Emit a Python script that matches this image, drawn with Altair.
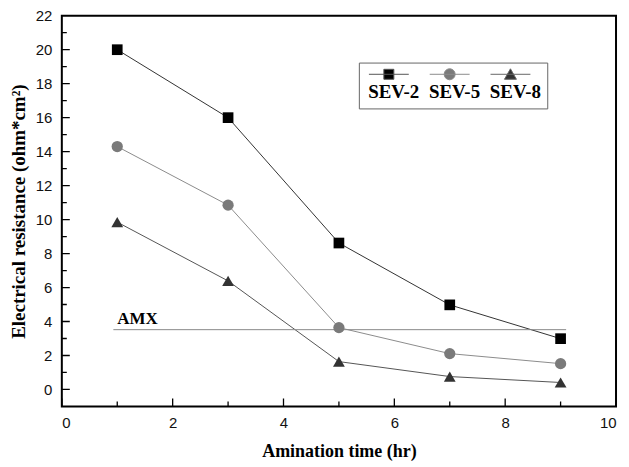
import altair as alt
import pandas as pd

# ---- data ----
hours = [1, 3, 5, 7, 9]
sev2 = [20.0, 16.0, 8.62, 4.98, 2.99]
sev5 = [14.3, 10.85, 3.64, 2.11, 1.52]
sev8 = [9.85, 6.39, 1.64, 0.76, 0.41]
series_names = ["SEV-2", "SEV-5", "SEV-8"]
amx_value = 3.52
amx_start = 0.93
amx_end = 9.1
amx_label_x = 1.0
amx_label = "AMX"
x_major_ticks = [0, 2, 4, 6, 8, 10]
x_minor_ticks = [1, 3, 5, 7, 9]
y_major_ticks = list(range(0, 22, 2))
y_minor_ticks = list(range(1, 22, 2))
x_label_values = [0, 2, 4, 6, 8, 10]
y_label_values = list(range(0, 23, 2))

# ---- styling ----
W, H = 556, 392
marker_colors = ["#000000", "#7a7a7a", "#333333"]
line_colors = ["#333333", "#8c8c8c", "#555555"]
legend_line_colors = ["#555555", "#8c8c8c", "#666666"]
shapes = ["square", "circle", "triangle-up"]
sizes = [115, 140, 150]
# legend symbols (unit = 11 px): a short line with the marker, raised above the label
legend_paths = [
    "M-0.673,-1.636H2.964M0.69,-2.09H1.6V-1.18H0.69Z",
    "M-0.673,-1.636H2.964M0.645,-1.636A0.5,0.5 0 1,0 1.645,-1.636A0.5,0.5 0 1,0 0.645,-1.636Z",
    "M-0.673,-1.636H2.964M1.145,-2.136L1.69,-1.18H0.6Z",
]

rows = []
for name, vals in zip(series_names, [sev2, sev5, sev8]):
    for h, v in zip(hours, vals):
        rows.append({"series": name, "hours": h, "res": v})
df = pd.DataFrame(rows)

amx_df = pd.DataFrame({"x0": [amx_start], "x1": [amx_end], "y": [amx_value],
                       "lx": [amx_label_x], "label": [amx_label]})

xs = alt.Scale(domain=[0, 10], nice=False, zero=False)
ys = alt.Scale(domain=[-1, 22], nice=False, zero=False)

x_axis = alt.Axis(values=x_label_values, tickSize=0, domain=False, grid=False,
                  labelFont="Liberation Sans", labelFontSize=15, labelColor="#111",
                  labelPadding=9, labelOverlap=False, title="Amination time (hr)",
                  titleFont="Liberation Serif", titleFontSize=18, titleFontWeight="bold",
                  titleColor="#000", titlePadding=12)
y_axis = alt.Axis(values=y_label_values, tickSize=0, domain=False, grid=False,
                  labelFont="Liberation Sans", labelFontSize=15, labelColor="#111",
                  labelPadding=10, labelOverlap=False, title="Electrical resistance (ohm*cm²)",
                  titleFont="Liberation Serif", titleFontSize=19, titleFontWeight="bold",
                  titleColor="#000", titlePadding=7)


def XF(field):
    return alt.X(field, scale=xs, axis=x_axis)


def YF(field):
    return alt.Y(field, scale=ys, axis=y_axis)


lines = alt.Chart(df).mark_line(strokeWidth=1).encode(
    x=XF("hours:Q"), y=YF("res:Q"),
    stroke=alt.Stroke("series:N", scale=alt.Scale(domain=series_names, range=line_colors), legend=None),
)

points = alt.Chart(df).mark_point(filled=True, opacity=1).encode(
    x=XF("hours:Q"), y=YF("res:Q"),
    color=alt.Color("series:N", scale=alt.Scale(domain=series_names, range=marker_colors), legend=None),
    shape=alt.Shape("series:N", scale=alt.Scale(domain=series_names, range=shapes), legend=None),
    size=alt.Size("series:N", scale=alt.Scale(domain=series_names, range=sizes), legend=None),
)

leg = alt.Legend(title=" ", titleFontSize=8, titlePadding=4,
                 orient="none", legendX=298, legendY=47, direction="horizontal",
                 columns=3, symbolSize=484, labelAlign="center", labelOffset=6,
                 labelBaseline="middle", labelFont="Liberation Serif", labelFontSize=19,
                 labelFontWeight="bold", labelColor="#000", columnPadding=6,
                 padding=6, strokeColor="#666", fillColor="white",
                 symbolStrokeWidth=1, symbolOpacity=1)

legend_layer = alt.Chart(df).mark_point(filled=False, strokeWidth=1, opacity=1).encode(
    x=XF("hours:Q"), y=YF("res:Q"),
    stroke=alt.Stroke("series:N", scale=alt.Scale(domain=series_names, range=legend_line_colors), legend=leg),
    fill=alt.Fill("series:N", scale=alt.Scale(domain=series_names, range=marker_colors), legend=leg),
    shape=alt.Shape("series:N", scale=alt.Scale(domain=series_names, range=legend_paths), legend=leg),
).transform_filter("datum.res < -100")

amx_rule = alt.Chart(amx_df).mark_rule(color="#8a8a8a", strokeWidth=1).encode(
    x=XF("x0:Q"), x2="x1:Q", y=YF("y:Q"))
amx_text = alt.Chart(amx_df).mark_text(align="left", baseline="alphabetic", dy=-6,
                                       font="Liberation Serif", fontSize=17,
                                       fontWeight="bold", color="#000").encode(
    x=XF("lx:Q"), y=YF("y:Q"), text="label:N")


def xtick_layer(vals, length):
    return alt.Chart(pd.DataFrame({"xv": vals})).mark_tick(
        color="#000", size=length * 2, thickness=1.3, opacity=1, clip=True).encode(
        x=XF("xv:Q"), y=alt.value(H))


def ytick_layer(vals, length):
    return alt.Chart(pd.DataFrame({"yv": vals})).mark_tick(
        color="#000", size=length * 2, thickness=1.3, opacity=1, clip=True).encode(
        y=YF("yv:Q"), x=alt.value(0))


ticks = [xtick_layer(x_major_ticks, 8), xtick_layer(x_minor_ticks, 5),
         ytick_layer(y_major_ticks, 8), ytick_layer(y_minor_ticks, 5)]

chart = alt.layer(lines, amx_rule, points, legend_layer, amx_text, *ticks).resolve_scale(
    color="independent", shape="independent", stroke="independent", fill="independent"
).properties(
    width=W, height=H,
    autosize=alt.AutoSizeParams(type="none"),
    padding={"left": 54, "top": 7, "right": 5, "bottom": 60},
).configure_view(stroke="#000", strokeWidth=2)

chart.save("out.html", embed_options={"renderer": "svg", "actions": False})
